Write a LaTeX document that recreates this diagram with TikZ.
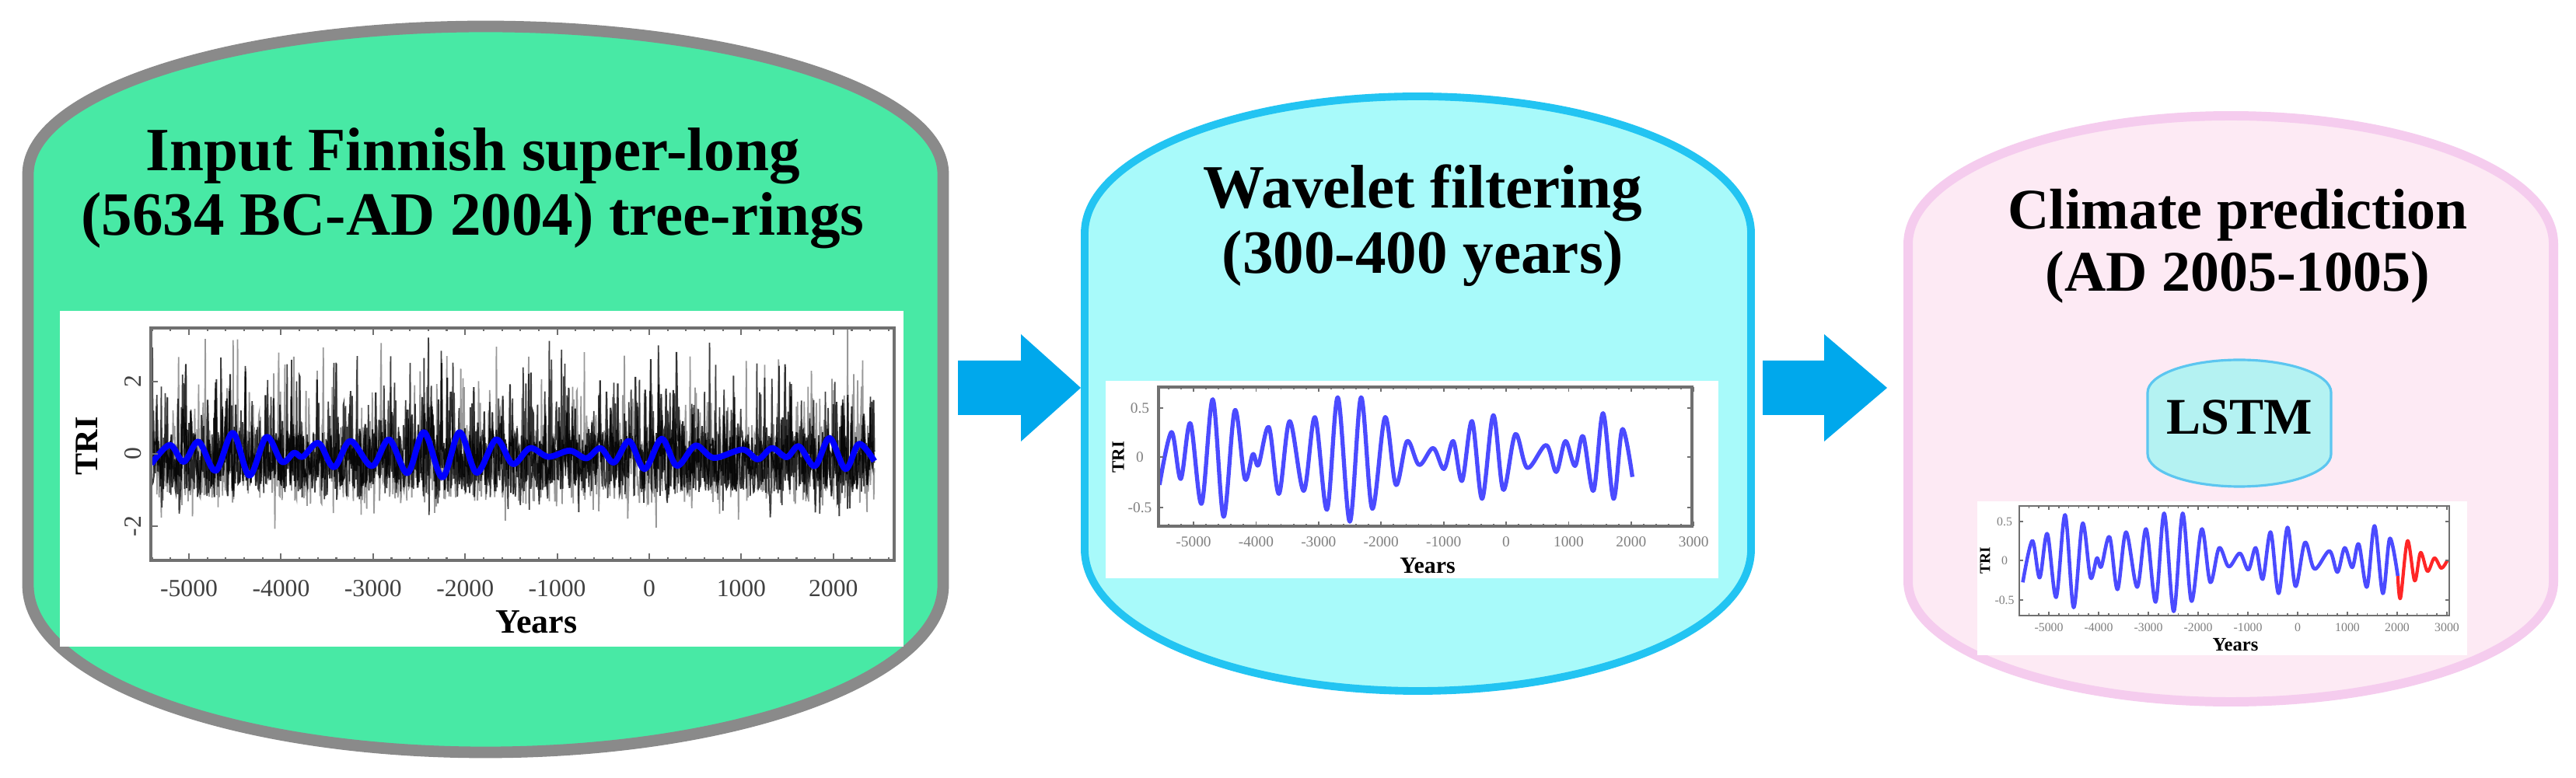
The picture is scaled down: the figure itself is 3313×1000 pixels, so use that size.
\documentclass[tikz,border=0pt]{standalone}
\usepackage{fontspec}
\setmainfont{Liberation Serif}
\definecolor{gfill}{HTML}{48E9A5}
\definecolor{gline}{HTML}{8A8A8A}
\definecolor{cfill}{HTML}{A8FAFA}
\definecolor{cline}{HTML}{22C4F2}
\definecolor{pfill}{HTML}{FDEAF4}
\definecolor{pline}{HTML}{F5CCEE}
\definecolor{lfill}{HTML}{B4F2F2}
\definecolor{lline}{HTML}{5CC6F0}
\definecolor{arrc}{HTML}{00A8EC}
\definecolor{wblue}{HTML}{4B4BFF}
\definecolor{axc}{HTML}{707070}
\newcommand\wavepath{plot[smooth,tension=0.55] coordinates {(-5513,-0.28) (-5322,0.25) (-5175,-0.22) (-5022,0.34) (-4844,-0.47) (-4665,0.58) (-4493,-0.60) (-4315,0.47) (-4155,-0.22) (-4028,0.03) (-3939,-0.08) (-3773,0.30) (-3614,-0.37) (-3442,0.36) (-3219,-0.34) (-3040,0.40) (-2849,-0.53) (-2677,0.60) (-2486,-0.65) (-2307,0.60) (-2129,-0.52) (-1925,0.40) (-1753,-0.28) (-1574,0.16) (-1383,-0.08) (-1160,0.09) (-988,-0.12) (-841,0.16) (-701,-0.24) (-542,0.36) (-382,-0.42) (-204,0.42) (-45,-0.33) (147,0.23) (338,-0.11) (637,0.12) (797,-0.15) (943,0.16) (1096,-0.09) (1224,0.21) (1389,-0.34) (1542,0.44) (1708,-0.42) (1848,0.28) (2008,-0.20)}}
\newcommand\redpath{plot[smooth,tension=0.55] coordinates {(2008,-0.20) (2063,-0.48) (2203,0.25) (2347,-0.26) (2465,0.10) (2604,-0.14) (2743,0.03) (2882,-0.10) (3000,0.0)}}
\begin{document}
\begin{tikzpicture}[x=0.01cm,y=0.01cm,
  ttl/.style={font=\fontsize{22.5}{24}\selectfont\bfseries, inner sep=0, anchor=base},
  ttlc/.style={font=\fontsize{21}{23}\selectfont\bfseries, inner sep=0, anchor=base},
  tkA/.style={font=\fontsize{9}{10}\selectfont, text=black!75, inner sep=0},
  tkB/.style={font=\fontsize{5.5}{6}\selectfont, text=black!50, inner sep=0},
  tkC/.style={font=\fontsize{4.5}{5}\selectfont, text=black!50, inner sep=0},
  axl/.style={draw=axc, line width=1pt},
  tck/.style={draw=axc, line width=0.6pt}]
\fill[white] (0,0) rectangle (3313,1000);
\useasboundingbox (0,0) rectangle (3313,1000);

% ---------- panel 1 (green)
\filldraw[fill=gfill, draw=gline, line width=4.2pt]
  (36,776) arc[start angle=180,end angle=0,x radius=588.5,y radius=190]
  -- (1213,247) arc[start angle=0,end angle=-180,x radius=588.5,y radius=215] -- cycle;
\node[ttl] (t1a) at (608,780) {Input Finnish super-long};
\node[ttl] (t1b) at (608,697) {(5634 BC-AD 2004) tree-rings};

\fill[white] (77,168) rectangle (1162,600);
\begin{scope}
  \clip (194,279) rectangle (1150,578);
  \begin{scope}[shift={(876.2,416)}, x=0.0012339cm, y=0.465cm]
    \pgfmathsetseed{7}
    \draw[black!40, line width=0.5pt] plot[domain=-5513:2008, samples=1300] (\x, {-0.3+1.1*rand+3.0*pow(rnd,8)-0.8*pow(rnd,12)});
    \pgfmathsetseed{19}
    \draw[black, line width=0.5pt, opacity=0.75] plot[domain=-5513:2008, samples=1300] (\x, {-0.3+0.9*rand+2.8*pow(rnd,8)-0.8*pow(rnd,12)});
    \pgfmathsetseed{31}
    \draw[black, line width=0.6pt, opacity=0.8] plot[domain=-5513:2008, samples=900] (\x, {-0.25+0.75*rand+2.5*pow(rnd,10)});
    \draw[blue, line width=2.2pt, line join=round] \wavepath;
  \end{scope}
\end{scope}
\draw[axl, line width=1.2pt] (194,279) rectangle (1150,578);
\foreach \k in {-5400,-5200,...,2600} {
  \draw[tck] ({835+0.1184*\k},279) -- ++(0,4);
  \draw[tck] ({835+0.1184*\k},578) -- ++(0,-4);
}
\foreach \k [count=\i] in {-5000,-4000,...,2000} {
  \draw[tck] ({835+0.1184*\k},279) -- ++(0,9);
  \draw[tck] ({835+0.1184*\k},578) -- ++(0,-9);
  \node[tkA] (p1x\i) at ({835+0.1184*\k},243) {\k};
}
\foreach \v/\t [count=\i] in {509/2,416/0,323/-2} {
  \draw[tck] (194,\v) -- ++(9,0);
  \node[tkA, rotate=90] (p1y\i) at (171,\v) {\t};
}
\node[font=\fontsize{12.5}{14}\selectfont\bfseries, inner sep=0] (p1yr) at (690,200) {Years};
\node[font=\fontsize{12}{14}\selectfont\bfseries, inner sep=0, rotate=90] (p1tri) at (112,426) {TRI};

% ---------- arrow 1
\coordinate (a1s) at (1232,501);
\coordinate (a1e) at (1390,501);
\fill[arrc] (a1s) ++(0,35) -- ++(81,0) -- ++(0,34) -- (a1e) -- ++(-77,-69) -- ++(0,34) -- ++(-81,0) -- cycle;

% ---------- panel 2 (cyan)
\filldraw[fill=cfill, draw=cline, line width=2.8pt]
  (1395,700) arc[start angle=180,end angle=0,x radius=428.5,y radius=176]
  -- (2252,293) arc[start angle=0,end angle=-180,x radius=428.5,y radius=182] -- cycle;
\node[ttl] (t2a) at (1830,732) {Wavelet filtering};
\node[ttl] (t2b) at (1830,648) {(300-400 years)};

\fill[white] (1422,256) rectangle (2210,510);
\begin{scope}
  \clip (1490,323) rectangle (2176,502);
  \begin{scope}[shift={(1937,412)}, x=0.000804cm, y=1.28cm]
    \draw[wblue, line width=1.5pt, line join=round] \wavepath;
  \end{scope}
\end{scope}
\draw[axl, line width=0.9pt] (1490,323) rectangle (2176,502);
\foreach \k in {-5400,-5200,...,3000} {
  \draw[tck, line width=0.5pt] ({1937+0.0804*\k},323) -- ++(0,3);
  \draw[tck, line width=0.5pt] ({1937+0.0804*\k},502) -- ++(0,-3);
}
\foreach \k [count=\i] in {-5000,-4000,...,3000} {
  \draw[tck, line width=0.5pt] ({1937+0.0804*\k},323) -- ++(0,6);
  \draw[tck, line width=0.5pt] ({1937+0.0804*\k},502) -- ++(0,-6);
  \node[tkB] (p2x\i) at ({1937+0.0804*\k},303) {\k};
}
\foreach \v/\t [count=\i] in {475/0.5,412/0,347/-0.5} {
  \draw[tck, line width=0.5pt] (1490,\v) -- ++(6,0);
  \draw[tck, line width=0.5pt] (2176,\v) -- ++(-6,0);
  \node[tkB] (p2y\i) at (1466,\v) {\t};
}
\node[font=\fontsize{8.5}{9}\selectfont\bfseries, inner sep=0] (p2yr) at (1836,272) {Years};
\node[font=\fontsize{6.5}{7}\selectfont\bfseries, inner sep=0, rotate=90] (p2tri) at (1438,412) {TRI};

% ---------- arrow 2
\coordinate (a2s) at (2267,501);
\coordinate (a2e) at (2427,501);
\fill[arrc] (a2s) ++(0,35) -- ++(79,0) -- ++(0,34) -- (a2e) -- ++(-81,-69) -- ++(0,34) -- ++(-79,0) -- cycle;

% ---------- panel 3 (pink)
\filldraw[fill=pfill, draw=pline, line width=3.4pt]
  (2454,686) arc[start angle=180,end angle=0,x radius=415,y radius=165]
  -- (3284,252) arc[start angle=0,end angle=-180,x radius=415,y radius=155] -- cycle;
\node[ttlc] (t3a) at (2878,705) {Climate prediction};
\node[ttlc] (t3b) at (2878,625) {(AD 2005-1005)};

\filldraw[fill=lfill, draw=lline, line width=0.9pt]
  (2762,495) arc[start angle=180,end angle=0,x radius=118,y radius=42]
  -- (2998,416) arc[start angle=0,end angle=-180,x radius=118,y radius=42] -- cycle;
\node[font=\fontsize{18.8}{20}\selectfont\bfseries, inner sep=0, anchor=base] (lstm) at (2880,441) {LSTM};

\fill[white] (2543,157) rectangle (3173,355);
\begin{scope}
  \clip (2597,208) rectangle (3150,349);
  \begin{scope}[shift={(2955,279)}, x=0.00064cm, y=1.01cm]
    \draw[wblue, line width=1.3pt, line join=round] \wavepath;
    \draw[red!85!white, line width=1.2pt, line join=round] \redpath;
  \end{scope}
\end{scope}
\draw[axl, line width=0.8pt] (2597,208) rectangle (3150,349);
\foreach \k in {-5400,-5200,...,3000} {
  \draw[tck, line width=0.45pt] ({2955+0.064*\k},208) -- ++(0,3);
  \draw[tck, line width=0.45pt] ({2955+0.064*\k},349) -- ++(0,-3);
}
\foreach \k [count=\i] in {-5000,-4000,...,3000} {
  \draw[tck, line width=0.45pt] ({2955+0.064*\k},208) -- ++(0,5);
  \draw[tck, line width=0.45pt] ({2955+0.064*\k},349) -- ++(0,-5);
  \node[tkC] (p3x\i) at ({2955+0.064*\k},193) {\k};
}
\foreach \v/\t [count=\i] in {329/0.5,279/0,228/-0.5} {
  \draw[tck, line width=0.45pt] (2597,\v) -- ++(5,0);
  \draw[tck, line width=0.45pt] (3150,\v) -- ++(-5,0);
  \node[tkC] (p3y\i) at (2578,\v) {\t};
}
\node[font=\fontsize{7}{8}\selectfont\bfseries, inner sep=0] (p3yr) at (2875,170) {Years};
\node[font=\fontsize{5.5}{6}\selectfont\bfseries, inner sep=0, rotate=90] (p3tri) at (2553,279) {TRI};
\end{tikzpicture}
\end{document}
